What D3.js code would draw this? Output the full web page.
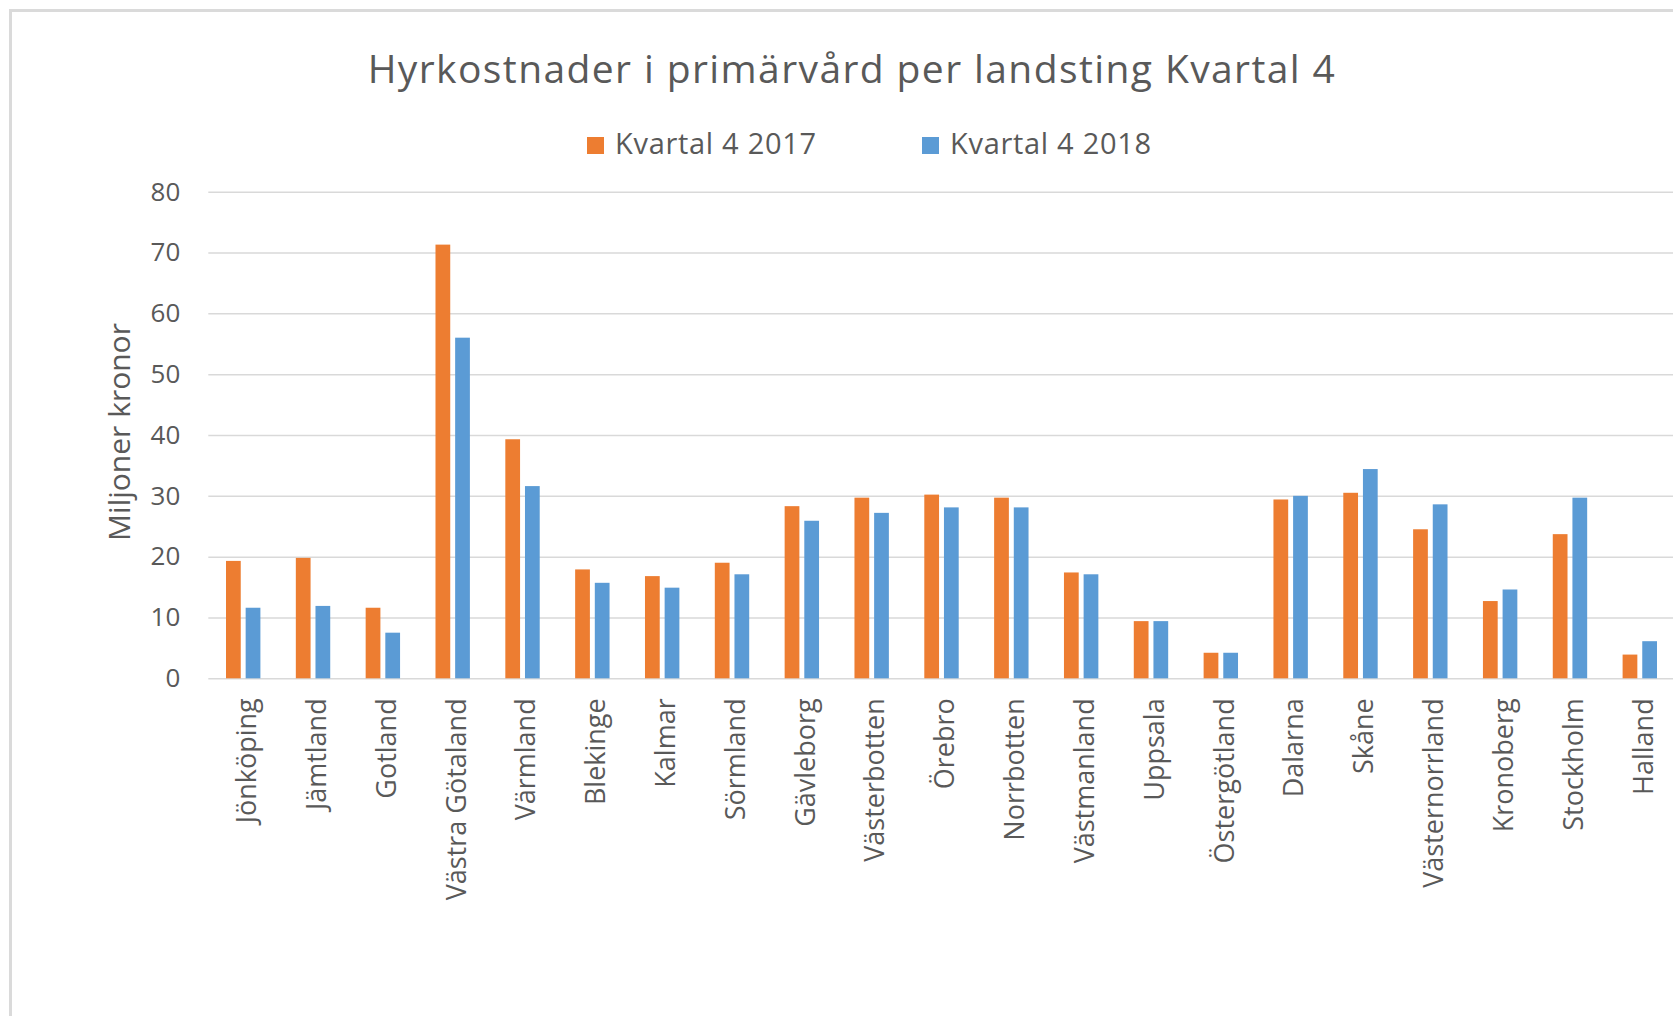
<!DOCTYPE html>
<html>
<head>
<meta charset="utf-8">
<script src="https://cdn.jsdelivr.net/npm/d3@7"></script>
<style>
  body { margin: 0; background: #fff; }
  text { font-family: "Open Sans", "Noto Sans", sans-serif; fill: #595959; }
</style>
</head>
<body>
<div id="canvas"></div>
<script>
// data
var landsting = ['Jönköping','Jämtland','Gotland','Västra Götaland','Värmland','Blekinge','Kalmar','Sörmland',
  'Gävleborg','Västerbotten','Örebro','Norrbotten','Västmanland','Uppsala','Östergötland','Dalarna','Skåne',
  'Västernorrland','Kronoberg','Stockholm','Halland'];
var seriesNames = ['Kvartal 4 2017','Kvartal 4 2018'];
var values2017 = [19.3,19.8,11.6,71.3,39.3,17.9,16.8,19.0,28.3,29.7,30.2,29.7,17.4,9.4,4.2,29.4,30.5,24.5,12.7,23.7,3.9];
var values2018 = [11.6,11.9,7.5,56.0,31.6,15.7,14.9,17.1,25.9,27.2,28.1,28.1,17.1,9.4,4.2,30.0,34.4,28.6,14.6,29.7,6.1];
var yTicks = [0,10,20,30,40,50,60,70,80];
var colors = ['#ED7D31','#5B9BD5'];

var W = 1673, H = 1016;
var m = {t:191.7, l:208.3};
var plotBottom = 678.3;

var svg = d3.select('#canvas').append('svg')
    .attr('width', W)
    .attr('height', H);

// chart frame (cut off at right and bottom)
svg.append('rect')
    .attr('x', 10.5).attr('y', 10.5)
    .attr('width', W + 20).attr('height', H + 20)
    .style('fill', '#fff')
    .style('stroke', '#DADADA')
    .style('stroke-width', 3);

var rows = landsting.map(function(d, i) {
    return {name: d, vals: [values2017[i], values2018[i]]};
});

// scales
var scaleX = d3.scaleBand()
    .domain(landsting)
    .range([m.l, m.l + 69.83 * landsting.length]);

var scaleS = d3.scaleBand()
    .domain(seriesNames)
    .range([17.7, 52.1])
    .paddingInner(0.25);

var scaleY = d3.scaleLinear()
    .domain([0, 80])
    .range([plotBottom, m.t]);

// gridlines + y labels
var yAxis = d3.axisLeft(scaleY)
    .tickValues(yTicks)
    .tickSize(-(W - m.l))
    .tickPadding(28);

var gy = svg.append('g')
    .attr('transform', 'translate(' + m.l + ',0)')
    .call(yAxis);
gy.select('.domain').remove();
gy.selectAll('line').style('stroke', '#D9D9D9').style('stroke-width', 1.5);
gy.selectAll('text')
    .style('font-size', '26px')
    .style('fill', '#595959')
    .style('font-family', '"Open Sans", sans-serif');

// bars
var groups = svg.selectAll('.grp').data(rows).enter()
    .append('g')
    .attr('class', 'grp')
    .attr('transform', function(d) { return 'translate(' + scaleX(d.name) + ',0)'; });

groups.selectAll('rect')
    .data(function(d) { return d.vals.map(function(v, j) { return {s: seriesNames[j], v: v, j: j}; }); })
    .enter().append('rect')
    .attr('x', function(d) { return scaleS(d.s); })
    .attr('width', scaleS.bandwidth())
    .attr('y', function(d) { return scaleY(d.v); })
    .attr('height', function(d) { return plotBottom - scaleY(d.v); })
    .style('fill', function(d) { return colors[d.j]; });

// x labels, rotated
var xAxis = d3.axisBottom(scaleX).tickSize(0).tickPadding(0);
var gx = svg.append('g')
    .attr('transform', 'translate(0,' + plotBottom + ')')
    .call(xAxis);
gx.select('.domain').remove();
gx.selectAll('text')
    .attr('transform', 'rotate(-90)')
    .attr('y', 0)
    .attr('x', -20)
    .attr('dx', 0)
    .attr('dy', '0.4em')
    .style('text-anchor', 'end')
    .style('font-size', '27px')
    .style('fill', '#595959')
    .style('font-family', '"Open Sans", sans-serif');
gx.selectAll('.tick').attr('transform', function(d) {
    return 'translate(' + (scaleX(d) + scaleX.bandwidth() / 2 + 2) + ',0)';
});

// y axis title
svg.append('text')
    .attr('transform', 'translate(130,432) rotate(-90)')
    .style('text-anchor', 'middle')
    .style('font-size', '30px')
    .text('Miljoner kronor');

// title
svg.append('text')
    .attr('x', 852).attr('y', 83)
    .style('text-anchor', 'middle')
    .style('font-size', '39px')
    .style('letter-spacing', '1.4px')
    .text('Hyrkostnader i primärvård per landsting Kvartal 4');

// legend
var legendX = [587, 922];
var lg = svg.selectAll('.leg').data(seriesNames).enter()
    .append('g')
    .attr('class', 'leg')
    .attr('transform', function(d, i) { return 'translate(' + legendX[i] + ',137)'; });
lg.append('rect')
    .attr('width', 17).attr('height', 17)
    .style('fill', function(d, i) { return colors[i]; });
lg.append('text')
    .attr('x', 28).attr('y', 17)
    .style('font-size', '29px')
    .style('letter-spacing', '0.7px')
    .text(function(d) { return d; });
</script>
</body>
</html>
